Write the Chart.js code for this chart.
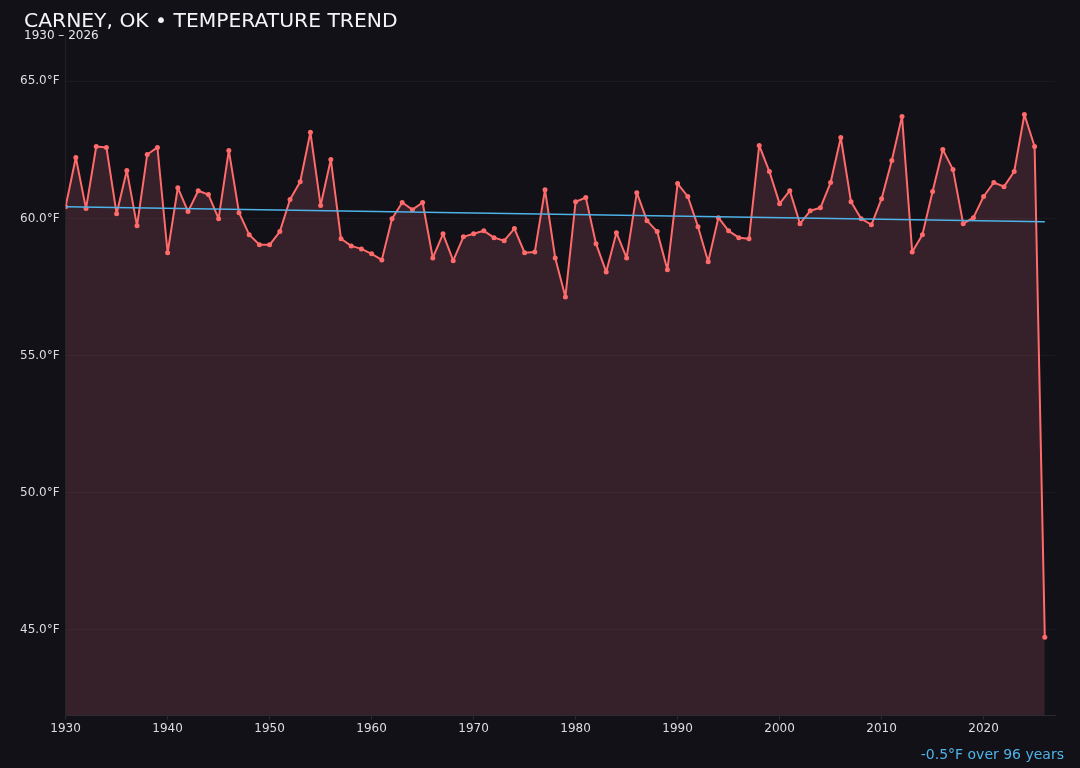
<!DOCTYPE html>
<html>
<head>
<meta charset="utf-8">
<script src="https://cdn.jsdelivr.net/npm/chart.js@4.4.1/dist/chart.umd.min.js"></script>
<style>
  html, body { margin: 0; padding: 0; background: #121117; }
  #wrap { position: relative; width: 1080px; height: 768px; font-family: "DejaVu Sans", sans-serif; }
  #title { position: absolute; left: 24px; top: 8px; font-size: 20.3px; color: #f4f4f6; white-space: nowrap; }
  #sub { position: absolute; left: 24px; top: 28px; font-size: 12px; color: #e6e6ea; white-space: nowrap; }
  #foot { position: absolute; right: 16px; top: 746px; font-size: 14px; color: #4fb3e8; white-space: nowrap; }
  canvas { position: absolute; left: 0; top: 0; }
</style>
</head>
<body>
<div id="wrap">
  <canvas id="c" width="1080" height="768"></canvas>
  <div id="title">CARNEY, OK • TEMPERATURE TREND</div>
  <div id="sub">1930 – 2026</div>
  <div id="foot">-0.5°F over 96 years</div>
</div>
<script>
const years = [];
for (let y = 1930; y <= 2026; y++) years.push(y);

const temps = [
  60.43, 62.22, 60.36, 62.62, 62.59, 60.17, 61.75, 59.73, 62.33, 62.59,
  58.75, 61.12, 60.25, 61.01, 60.87, 59.99, 62.48, 60.21, 59.41, 59.04,
  59.04, 59.52, 60.69, 61.34, 63.14, 60.47, 62.15, 59.26, 59.00, 58.89,
  58.71, 58.49, 59.99, 60.58, 60.32, 60.58, 58.56, 59.44, 58.46, 59.33,
  59.44, 59.55, 59.30, 59.19, 59.63, 58.75, 58.78, 61.05, 58.56, 57.14,
  60.61, 60.76, 59.08, 58.05, 59.48, 58.56, 60.94, 59.92, 59.52, 58.13,
  61.27, 60.80, 59.70, 58.42, 60.03, 59.55, 59.30, 59.26, 62.66, 61.71,
  60.54, 61.01, 59.81, 60.28, 60.39, 61.31, 62.95, 60.61, 59.99, 59.77,
  60.72, 62.11, 63.72, 58.78, 59.41, 60.98, 62.51, 61.78, 59.81, 60.03,
  60.80, 61.31, 61.16, 61.71, 63.79, 62.62, 44.74
];

const trendYears = [1930, 2026];
const trendValues = [60.43, 59.88];

const yTickValues = [45, 50, 55, 60, 65];
const xTickValues = [1930, 1940, 1950, 1960, 1970, 1980, 1990, 2000, 2010, 2020];

const yMin = 41.88, yMax = 66.65;
const xMin = 1930, xMax = 2027;

const tempPoints = years.map((yr, i) => ({ x: yr, y: temps[i] }));
const trendPoints = trendYears.map((yr, i) => ({ x: yr, y: trendValues[i] }));

Chart.defaults.font.family = '"DejaVu Sans", sans-serif';

new Chart(document.getElementById('c'), {
  type: 'line',
  data: {
    datasets: [
      {
        label: 'Trend',
        data: trendPoints,
        borderColor: '#4fb3e8',
        borderWidth: 1.5,
        pointRadius: 0,
        fill: false,
        tension: 0
      },
      {
        label: 'Temperature',
        data: tempPoints,
        borderColor: '#ff6b6b',
        backgroundColor: 'rgba(243,111,142,0.16)',
        borderWidth: 2,
        borderJoinStyle: 'round',
        pointRadius: 2.5,
        pointBackgroundColor: '#ff6b6b',
        pointBorderColor: '#ff6b6b',
        pointBorderWidth: 0,
        fill: 'start',
        tension: 0
      }
    ]
  },
  options: {
    responsive: false,
    animation: false,
    devicePixelRatio: 1,
    layout: { padding: { left: 14, right: 25, top: 36, bottom: 30 } },
    plugins: {
      legend: { display: false },
      tooltip: { enabled: false },
      title: { display: false }
    },
    scales: {
      x: {
        type: 'linear',
        min: xMin,
        max: xMax,
        afterBuildTicks: (axis) => { axis.ticks = xTickValues.map(v => ({ value: v })); },
        ticks: {
          color: '#dcdce2',
          font: { size: 12 },
          padding: 2,
          maxRotation: 0,
          callback: (v) => String(v)
        },
        grid: {
          drawOnChartArea: false,
          drawTicks: true,
          tickLength: 4,
          color: '#2a2a33'
        },
        border: { display: true, color: '#2a2a33', width: 1 }
      },
      y: {
        type: 'linear',
        min: yMin,
        max: yMax,
        afterBuildTicks: (axis) => { axis.ticks = yTickValues.map(v => ({ value: v })); },
        ticks: {
          color: '#dcdce2',
          font: { size: 12 },
          padding: 6,
          callback: (v) => v.toFixed(1) + '°F'
        },
        grid: {
          color: 'rgba(255,255,255,0.04)',
          drawTicks: false
        },
        border: { display: true, color: '#22212a', width: 1 }
      }
    }
  }
});
</script>
</body>
</html>
